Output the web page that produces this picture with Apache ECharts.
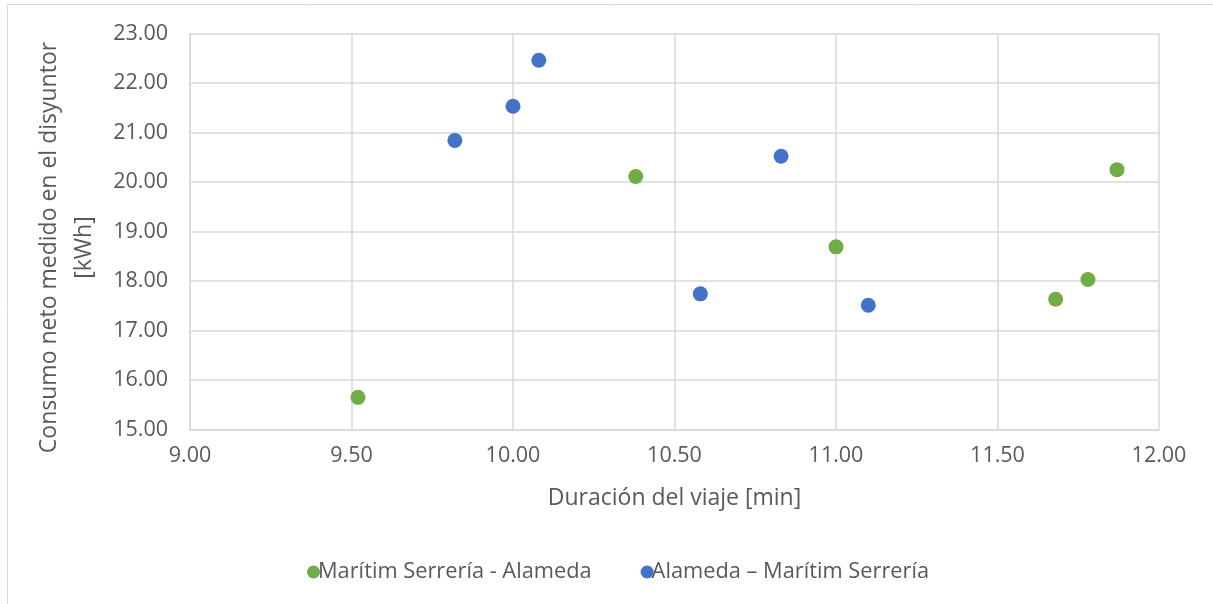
<!DOCTYPE html>
<html>
<head>
<meta charset="utf-8">
<script src="https://cdn.jsdelivr.net/npm/echarts@6/dist/echarts.min.js"></script>
<style>
  html, body { margin: 0; padding: 0; background: #fff; }
  #chart { width: 1213px; height: 604px; }
</style>
</head>
<body>
<div id="chart"></div>
<script>
// Trip duration [min] vs net consumption at the breaker [kWh]
const seriesNames = ['Marítim Serrería - Alameda', 'Alameda – Marítim Serrería'];

const serreriaAlamedaX = [9.52, 10.38, 11.00, 11.68, 11.78, 11.87];
const serreriaAlamedaY = [15.65, 20.11, 18.69, 17.63, 18.03, 20.25];

const alamedaSerreriaX = [9.82, 10.00, 10.08, 10.58, 10.83, 11.10];
const alamedaSerreriaY = [20.84, 21.53, 22.46, 17.74, 20.52, 17.51];

const xTitle = 'Duración del viaje [min]';
const yTitle = 'Consumo neto medido en el disyuntor\n[kWh]';

const pair = (xs, ys) => xs.map((x, i) => [x, ys[i]]);

const FONT = '"Open Sans", "Noto Sans", sans-serif';
const TEXT = '#595959';
const GRID = '#D9D9D9';

const chart = echarts.init(document.getElementById('chart'), null, { renderer: 'canvas' });
chart.setOption({
  backgroundColor: '#ffffff',
  animation: false,
  textStyle: { fontFamily: FONT, color: TEXT },
  graphic: [{
    type: 'rect',
    shape: { x: 7.5, y: 4.5, width: 1220, height: 620 },
    style: { fill: 'none', stroke: '#D9D9D9', lineWidth: 1 },
    silent: true
  }],
  grid: { left: 190, top: 33.5, right: 54, bottom: 174.5 },
  legend: {
    bottom: 16,
    left: 302,
    itemWidth: 13,
    itemHeight: 13,
    itemGap: 49,
    icon: 'circle',
    textStyle: { fontFamily: FONT, fontSize: 21.8, color: TEXT, padding: [0, 0, 0, -7] },
    data: seriesNames
  },
  xAxis: {
    type: 'value',
    min: 9, max: 12, interval: 0.5,
    name: xTitle,
    nameLocation: 'middle',
    nameGap: 57,
    nameTextStyle: { fontFamily: FONT, fontSize: 23, color: TEXT },
    axisLine: { show: true, lineStyle: { color: GRID, width: 1.5 } },
    axisTick: { show: false },
    axisLabel: { fontFamily: FONT, fontSize: 21.5, color: TEXT, margin: 15, formatter: v => v.toFixed(2) },
    splitLine: { show: true, lineStyle: { color: GRID, width: 1.5 } }
  },
  yAxis: {
    type: 'value',
    min: 15, max: 23, interval: 1,
    name: yTitle,
    nameLocation: 'middle',
    nameGap: 73,
    nameTextStyle: { fontFamily: FONT, fontSize: 23, color: TEXT, lineHeight: 35, align: 'center', padding: [0, 32, 0, 0] },
    axisLine: { show: true, lineStyle: { color: GRID, width: 1.5 } },
    axisTick: { show: false },
    axisLabel: { fontFamily: FONT, fontSize: 21.5, color: TEXT, margin: 22, formatter: v => v.toFixed(2) },
    splitLine: { show: true, lineStyle: { color: GRID, width: 1.5 } }
  },
  series: [
    {
      name: seriesNames[0],
      type: 'scatter',
      symbol: 'circle',
      symbolSize: 15,
      itemStyle: { color: '#70AD47', opacity: 1 },
      data: pair(serreriaAlamedaX, serreriaAlamedaY)
    },
    {
      name: seriesNames[1],
      type: 'scatter',
      symbol: 'circle',
      symbolSize: 15,
      itemStyle: { color: '#4472C4', opacity: 1 },
      data: pair(alamedaSerreriaX, alamedaSerreriaY)
    }
  ]
});
</script>
</body>
</html>
